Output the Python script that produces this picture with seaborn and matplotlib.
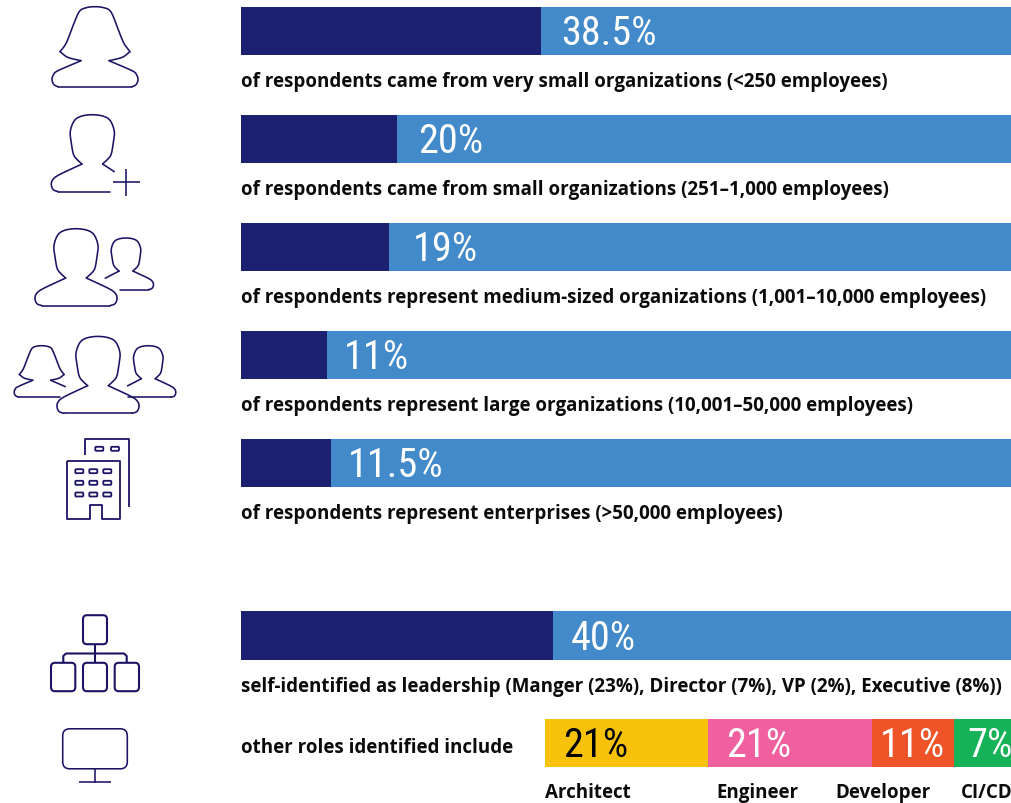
import numpy as np
import pandas as pd
import matplotlib
matplotlib.use("Agg")
import matplotlib.pyplot as plt
from matplotlib.patches import FancyBboxPatch
import seaborn as sns

# ---------- data ----------
org_sizes = ["Very small", "Small", "Medium", "Large", "Enterprise"]
org_shares = [38.5, 20, 19, 11, 11.5]
org_labels = ["38.5%", "20%", "19%", "11%", "11.5%"]
org_captions = [
    "of respondents came from very small organizations (<250 employees)",
    "of respondents came from small organizations (251–1,000 employees)",
    "of respondents represent medium-sized organizations (1,001–10,000 employees)",
    "of respondents represent large organizations (10,001–50,000 employees)",
    "of respondents represent enterprises (>50,000 employees)",
]
leader_share = [40]
leader_label = "40%"
leader_caption = "self-identified as leadership (Manger (23%), Director (7%), VP (2%), Executive (8%))"
roles_caption = "other roles identified include"
role_names = ["Architect", "Engineer", "Developer", "CI/CD"]
role_shares = [20.9, 21, 10.5, 7.5]
role_labels = ["21%", "21%", "11%", "7%"]

# ---------- style ----------
DARK = "#1b2070"
BLUE = "#428aca"
INK = "#1b1464"
ROLE_COLORS = ["#f9c20a", "#f0609e", "#ee5428", "#16b257"]
ROLE_TEXT = ["black", "white", "white", "white"]
ROLE_CAPTION_X = [545, 716, 835, 961]
ROLE_LABEL_X = [563, 726, 880, 967]
LABEL_OFFSET = [19.5, 21, 23.5, 17.5, 17.5]

sns.set_theme(style="white")
W, H = 1012, 804
fig = plt.figure(figsize=(W / 100, H / 100), dpi=100, facecolor="white")
CAP = dict(family=["Open Sans"], fontweight="bold", fontsize=13.47, color="#0b0b0b", va="center", ha="left")
BIG = dict(family=["Roboto Condensed"], fontweight=400, fontsize=29, va="center_baseline", ha="left")
PX_PER_PCT = 7.8


def px_axes(x0, y0, x1, y1):
    a = fig.add_axes([x0 / W, 1 - y1 / H, (x1 - x0) / W, (y1 - y0) / H])
    a.axis("off")
    return a


def bar_pair(ax, cats, vals):
    sns.barplot(x=[100] * len(cats), y=cats, color=BLUE, saturation=1, width=0.9999, linewidth=0, ax=ax, orient="h")
    sns.barplot(x=vals, y=cats, color=DARK, saturation=1, width=0.9999, linewidth=0, ax=ax, orient="h")
    ax.set_xlim(0, 772 / PX_PER_PCT)
    ax.axis("off")


# top group: five evenly spaced bars
ax_top = px_axes(241, 8, 1013, 488)
sns.barplot(x=[100] * 5, y=org_sizes, color=BLUE, saturation=1, width=48 / 108, linewidth=0, ax=ax_top, orient="h")
sns.barplot(x=org_shares, y=org_sizes, color=DARK, saturation=1, width=48 / 108, linewidth=0, ax=ax_top, orient="h")
half = 24 / 108
ax_top.set_ylim(4 + half, -half)
ax_top.set_xlim(0, 772 / PX_PER_PCT)
ax_top.axis("off")
for i, (v, lab) in enumerate(zip(org_shares, org_labels)):
    ax_top.annotate(lab, (v, i), xytext=(LABEL_OFFSET[i] * 0.72, 2), textcoords="offset points", color="white", **BIG)

# leadership bar
ax_lead = px_axes(241, 612, 1013, 661)
bar_pair(ax_lead, ["Leadership"], leader_share)
ax_lead.set_ylim(0.5, -0.5)
ax_lead.annotate(leader_label, (leader_share[0], 0), xytext=(18 * 0.72, 1.5), textcoords="offset points", color="white", **BIG)

# other roles stacked bar
ax_roles = px_axes(545, 720, 1013, 768)
cum = np.cumsum(role_shares)
for c, col in list(zip(cum, ROLE_COLORS))[::-1]:
    sns.barplot(x=[c], y=["Roles"], color=col, saturation=1, width=0.9999, linewidth=0, ax=ax_roles, orient="h")
ax_roles.set_xlim(0, 468 / PX_PER_PCT)
ax_roles.set_ylim(0.5, -0.5)
ax_roles.axis("off")

# overlay in pixel coordinates for captions and icons
ov = fig.add_axes([0, 0, 1, 1], facecolor="none")
ov.set_xlim(0, W)
ov.set_ylim(H, 0)
ov.axis("off")
for y, cap in zip([81, 189, 297, 405, 513], org_captions):
    ov.text(241, y + 1.2, cap, **CAP)
ov.text(241, 687.2, leader_caption, **CAP)
ov.text(241, 748.2, roles_caption, **CAP)
for x, name in zip(ROLE_CAPTION_X, role_names):
    ov.text(x, 793.2, name, **CAP)
for x, lab, col in zip(ROLE_LABEL_X, role_labels, ROLE_TEXT):
    ov.text(x, 741.5, lab, color=col, **BIG)


# ---------- icons ----------
def spline(pts, n=14):
    p = np.array(pts, float)
    if len(p) < 3:
        return p
    q = np.vstack([2 * p[0] - p[1], p, 2 * p[-1] - p[-2]])
    out = []
    for i in range(1, len(q) - 2):
        for t in np.linspace(0, 1, n, endpoint=False):
            a, b, c, d = q[i - 1], q[i], q[i + 1], q[i + 2]
            out.append(0.5 * (2 * b + (c - a) * t + (2 * a - 5 * b + 4 * c - d) * t ** 2 + (3 * b - a - 3 * c + d) * t ** 3))
    out.append(p[-1])
    return np.array(out)


def stroke(pts, cx, top, s, lw=1.15):
    arr = spline(pts) * s + np.array([cx, top + 0.7])
    ov.plot(arr[:, 0], arr[:, 1], color=INK, lw=lw, solid_capstyle="round", solid_joinstyle="round")


R_HEAD = [(10.3, 49.3), (14.3, 45.7), (18.7, 40), (21, 28), (22, 16.7), (18, 6), (11, 1.5), (0, 0)]
MAN_HEAD = R_HEAD + [(-x, y) for x, y in R_HEAD[-2::-1]]
MAN_L = [(-10.3, 49.3), (-33, 60), (-39.5, 65), (-41, 70), (-39, 75), (-34, 77)]
MAN_R = [(34, 77), (39, 75), (41, 70), (39.5, 65), (33, 60), (10.3, 49.3)]


def hair(pts):
    return pts + [(-x, y) for x, y in pts[-2::-1]]


NOTCH_R = [(14, 54), (27, 50.7), (35, 45)]
CROWN_R = [(35, 45), (30, 38.5), (26, 30), (20, 14), (15, 4), (8, 0.8), (0, 0)]
WOM_L = [(-14, 54), (-37, 64), (-41.5, 68), (-43, 73), (-41, 78), (-37, 80)]
WOM_R = [(37, 80), (41, 78), (43, 73), (41.5, 68), (37, 64), (14, 54)]


def man(cx, top, s=1.0, left_end=None, right_end=None, bottom=(-34, 34)):
    stroke(MAN_HEAD, cx, top, s)
    if left_end is None:
        stroke(MAN_L, cx, top, s)
    else:
        stroke([(-10.3, 49.3), left_end], cx, top, s)
    if right_end is None:
        stroke(MAN_R, cx, top, s)
    else:
        stroke([(10.3, 49.3), right_end], cx, top, s)
    stroke([(bottom[0], 77), (bottom[1], 77)], cx, top, s)


def woman(cx, top, s=1.0, right_end=None, bottom=(-37, 37)):
    stroke(NOTCH_R, cx, top, s)
    stroke([(-x, y) for x, y in NOTCH_R], cx, top, s)
    stroke(hair(CROWN_R), cx, top, s)
    stroke(WOM_L, cx, top, s)
    if right_end is None:
        stroke(WOM_R, cx, top, s)
    else:
        stroke([(14, 54), right_end], cx, top, s)
    stroke([(bottom[0], 80), (bottom[1], 80)], cx, top, s)


def rbox(x0, y0, x1, y1, r, lw=1.15):
    ov.add_patch(FancyBboxPatch((x0 + r, y0 + r + 0.5), x1 - x0 - 2 * r, y1 - y0 - 2 * r,
                                boxstyle=f"round,pad={r},rounding_size={r}", fc="none", ec=INK, lw=lw))


def line(xs, ys, lw=1.15):
    ov.plot(xs, np.array(ys) + 0.5, color=INK, lw=lw, solid_capstyle="butt", solid_joinstyle="round")


woman(95, 7)
man(92.3, 115, right_end=(22, 57), bottom=(-34, 18))
line([113, 140], [182.5, 182.5]); line([126.3, 126.3], [169, 196])
man(76, 229)
man(126, 238.3, 0.67, left_end=(-31, 60), bottom=(-9, 34))
woman(41.7, 346, 0.64, right_end=(37, 64), bottom=(-37, 29))
man(98, 336.7)
man(148.3, 346, 0.67, left_end=(-31, 60), bottom=(-31, 34))

# building
line([67.3, 67.3, 90, 90, 101.7, 101.7, 120, 120, 67.3], [461, 519.3, 519.3, 505.7, 505.7, 519.3, 519.3, 461, 461], lw=1.3)
line([85, 85, 129.3, 129.3], [455, 439.3, 439.3, 507], lw=1.3)
for yy in (471.7, 483.3, 495):
    for xx in (79.3, 93.3, 107.3):
        rbox(xx - 4, yy - 2, xx + 4, yy + 2, 1, lw=1.3)
for xx in (99.3, 115):
    rbox(xx - 4, 447.3, xx + 4, 451.3, 1, lw=1.3)

# org chart
rbox(83, 615.7, 107, 644.7, 4, lw=1.5)
for a, b in ((51, 75.3), (83, 107), (114.7, 139)):
    rbox(a, 663.3, b, 691.7, 4, lw=1.5)
line([95, 95], [644.7, 663.3], lw=1.5)
line([63.3, 63.3, 66, 124, 126.7, 126.7], [663.3, 656.5, 654, 654, 656.5, 663.3], lw=1.5)

# monitor
rbox(62.7, 729.3, 127.3, 769.3, 7, lw=1.15)
line([95, 95], [769.3, 783])
line([79, 111], [782.8, 782.8])

fig.savefig("out.png", dpi=100, facecolor="white")
